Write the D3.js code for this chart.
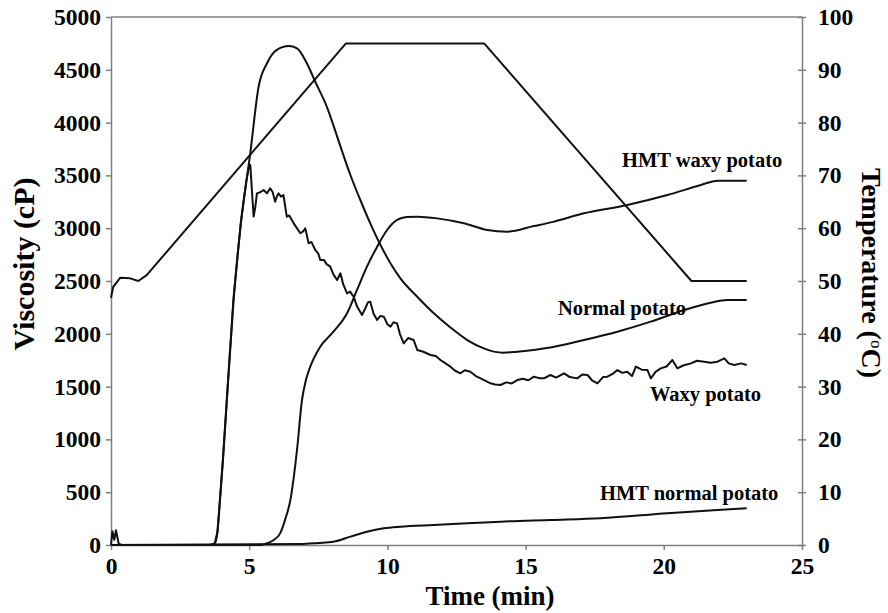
<!DOCTYPE html>
<html>
<head>
<meta charset="UTF-8">
<title>Viscosity profiles</title>
<script src="https://d3js.org/d3.v7.min.js"></script>
<style>
    body { margin: 0; background: #fff; }
    svg text {
        font-family: "Liberation Serif", "Times New Roman", serif;
        font-weight: bold;
        fill: #000;
    }
    .axis path, .axis line { stroke: #808080; stroke-width: 1.5; }
    .axis text { font-size: 23.5px; }
    .curve { fill: none; stroke: #111; stroke-width: 2; stroke-linejoin: round; }
</style>
</head>
<body>
<svg id="chart" width="888" height="613"></svg>
<script>
    // tick labels
    const timeTicks = [0, 5, 10, 15, 20, 25];
    const viscTicks = [0, 500, 1000, 1500, 2000, 2500, 3000, 3500, 4000, 4500, 5000];
    const tempTicks = [0, 10, 20, 30, 40, 50, 60, 70, 80, 90, 100];

    // [time (min), viscosity (cP)]
    const normalPotato = [[0,0],[3.6,0],[3.75,15],[3.85,120],[3.95,450],[4.05,800],[4.2,1400],[4.43,2300],[4.7,3050],[5.04,3712],[5.34,4340],[5.64,4560],[6.0,4688],[6.43,4725],[6.73,4703],[7.09,4560],[7.39,4387],[7.81,4150],[8.3,3775],[8.66,3504],[9.02,3267],[9.38,3046],[9.75,2841],[10.11,2668],[10.47,2525],[11.08,2351],[11.68,2194],[12.28,2060],[12.89,1941],[13.49,1862],[13.85,1831],[14.21,1821],[14.7,1831],[15.9,1870],[17.11,1941],[18.32,2020],[19.53,2115],[20.74,2225],[21.7,2295],[22.3,2320],[23.0,2320]];

    const waxyPotato = [[0,0],[0.05,130],[0.12,50],[0.18,140],[0.28,10],[0.4,0],[3.6,0],[3.75,15],[3.85,120],[3.95,460],[4.05,820],[4.2,1420],[4.43,2330],[4.7,3060],[4.9,3450],[5.0,3600],[5.04,3598],[5.1,3350],[5.16,3110],[5.22,3200],[5.28,3330],[5.4,3340],[5.52,3362],[5.64,3330],[5.76,3378],[5.85,3340],[5.94,3251],[6.0,3300],[6.06,3330],[6.15,3300],[6.24,3314],[6.36,3109],[6.45,3120],[6.61,3046],[6.7,3010],[6.85,2952],[6.95,2970],[7.03,2998],[7.15,2857],[7.25,2870],[7.39,2794],[7.5,2760],[7.57,2699],[7.7,2700],[7.8,2660],[7.93,2636],[8.05,2560],[8.18,2509],[8.3,2573],[8.4,2470],[8.54,2383],[8.65,2400],[8.78,2351],[8.9,2260],[9.08,2178],[9.2,2240],[9.3,2300],[9.38,2304],[9.5,2190],[9.63,2131],[9.75,2170],[9.87,2162],[10.0,2090],[10.11,2067],[10.22,2110],[10.35,2099],[10.45,2000],[10.59,1910],[10.75,1960],[10.95,1941],[11.08,1847],[11.3,1830],[11.56,1799],[11.75,1790],[11.92,1752],[12.1,1720],[12.28,1689],[12.45,1650],[12.64,1626],[12.8,1655],[13.0,1641],[13.2,1600],[13.37,1578],[13.55,1555],[13.73,1531],[13.9,1520],[14.09,1515],[14.3,1540],[14.5,1530],[14.7,1562],[14.9,1575],[15.1,1560],[15.3,1594],[15.5,1580],[15.66,1578],[15.9,1610],[16.1,1585],[16.39,1626],[16.6,1590],[16.87,1578],[17.05,1615],[17.24,1610],[17.4,1560],[17.6,1531],[17.8,1590],[17.96,1594],[18.15,1620],[18.32,1657],[18.5,1630],[18.68,1641],[18.85,1600],[18.99,1689],[19.2,1660],[19.41,1657],[19.53,1578],[19.7,1640],[19.89,1673],[20.1,1690],[20.31,1752],[20.49,1673],[20.7,1700],[20.98,1720],[21.2,1745],[21.46,1736],[21.7,1725],[21.94,1736],[22.19,1768],[22.35,1720],[22.55,1705],[22.8,1720],[23.0,1705]];

    const hmtWaxyPotato = [[0,0],[5.4,0],[5.64,16],[5.9,50],[6.12,110],[6.3,240],[6.49,426],[6.73,900],[6.91,1373],[7.05,1560],[7.21,1689],[7.57,1878],[8.05,2020],[8.54,2194],[8.9,2415],[9.26,2636],[9.63,2825],[9.99,2983],[10.35,3078],[10.7,3105],[11.08,3109],[11.8,3093],[12.77,3046],[13.61,2983],[14.34,2967],[15.3,3020],[16.0,3060],[17.11,3141],[18.68,3220],[20.13,3314],[21.34,3409],[21.94,3450],[23.0,3450]];

    const hmtNormalPotato = [[0,0],[6.85,10],[7.5,20],[8.05,31],[8.66,79],[9.26,126],[9.87,158],[10.47,173],[11.68,189],[12.89,205],[14.09,221],[15.9,237],[17.71,253],[20.13,300],[21.94,331],[23.0,347]];

    // [time (min), temperature (°C)]
    const temperature = [[0,46.8],[0.08,48.9],[0.33,50.6],[0.69,50.5],[0.99,50.0],[1.29,51.1],[8.5,95],[13.5,95],[21.0,50],[23.0,50]];

    const curveNames = ["HMT waxy potato", "Normal potato", "Waxy potato", "HMT normal potato"];

    const svg = d3.select("#chart");
    const plotLeft = 111, plotRight = 802, plotTop = 17, plotBottom = 545;
    const serif = '"Liberation Serif", "Times New Roman", serif';

    const x = d3.scaleLinear().domain([0, 25]).range([plotLeft, plotRight]);
    const y = d3.scaleLinear().domain([0, 5000]).range([plotBottom, plotTop]);
    const yT = d3.scaleLinear().domain([0, 100]).range([plotBottom, plotTop]);

    // top frame line
    svg.append("line")
        .attr("x1", plotLeft).attr("x2", plotRight)
        .attr("y1", plotTop).attr("y2", plotTop)
        .attr("stroke", "#808080").attr("stroke-width", 1.5);

    const leftAxis = svg.append("g")
        .attr("class", "axis")
        .attr("transform", `translate(${plotLeft},0)`)
        .call(d3.axisLeft(y).tickValues(viscTicks).tickFormat(d3.format("d"))
            .tickSize(5).tickSizeOuter(0).tickPadding(5));

    const rightAxis = svg.append("g")
        .attr("class", "axis")
        .attr("transform", `translate(${plotRight},0)`)
        .call(d3.axisRight(yT).tickValues(tempTicks).tickFormat(d3.format("d"))
            .tickSize(4).tickSizeOuter(0).tickPadding(12));
    rightAxis.selectAll(".tick line").attr("x1", -4).attr("x2", 4);

    const bottomAxis = svg.append("g")
        .attr("class", "axis")
        .attr("transform", `translate(0,${plotBottom})`)
        .call(d3.axisBottom(x).tickValues(timeTicks).tickFormat(d3.format("d"))
            .tickSize(5).tickSizeOuter(0).tickPadding(7));

    [leftAxis, rightAxis, bottomAxis].forEach(g => {
        g.attr("font-family", serif);
        g.selectAll("text")
            .style("font-family", serif)
            .style("font-weight", "bold")
            .style("font-size", "23.5px");
    });

    // axis titles
    svg.append("text")
        .attr("x", 490).attr("y", 605)
        .attr("text-anchor", "middle")
        .style("font-size", "27px")
        .text("Time (min)");

    svg.append("text")
        .attr("transform", "translate(34,264) rotate(-90)")
        .attr("text-anchor", "middle")
        .style("font-size", "30px")
        .text("Viscosity (cP)");

    const tTitle = svg.append("text")
        .attr("transform", "translate(862,273) rotate(90)")
        .attr("text-anchor", "middle")
        .style("font-size", "28px");
    tTitle.append("tspan").text("Temperature (");
    tTitle.append("tspan").attr("dy", -9).style("font-size", "17px").style("font-weight", "normal").text("o");
    tTitle.append("tspan").attr("dy", 9).text("C)");

    const line = d3.line().x(d => x(d[0])).y(d => y(d[1]));
    const smooth = d3.line().x(d => x(d[0])).y(d => y(d[1])).curve(d3.curveMonotoneX);
    const tempLine = d3.line().x(d => x(d[0])).y(d => yT(d[1]));

    svg.append("path").attr("class", "curve").attr("d", tempLine(temperature)).attr("stroke-width", 1.8);
    svg.append("path").attr("class", "curve").attr("d", smooth(hmtNormalPotato));
    svg.append("path").attr("class", "curve").attr("d", smooth(hmtWaxyPotato));
    svg.append("path").attr("class", "curve").attr("d", smooth(normalPotato));
    svg.append("path").attr("class", "curve").attr("d", line(waxyPotato)).attr("stroke-width", 1.8);

    // curve labels placed in data coordinates (time, viscosity)
    const labelAt = [[18.49, 3580], [16.17, 2178], [19.5, 1364], [17.69, 426]];
    curveNames.forEach((name, i) => {
        svg.append("text")
            .attr("x", x(labelAt[i][0]))
            .attr("y", y(labelAt[i][1]))
            .style("font-size", "20.5px")
            .text(name);
    });
</script>
</body>
</html>
